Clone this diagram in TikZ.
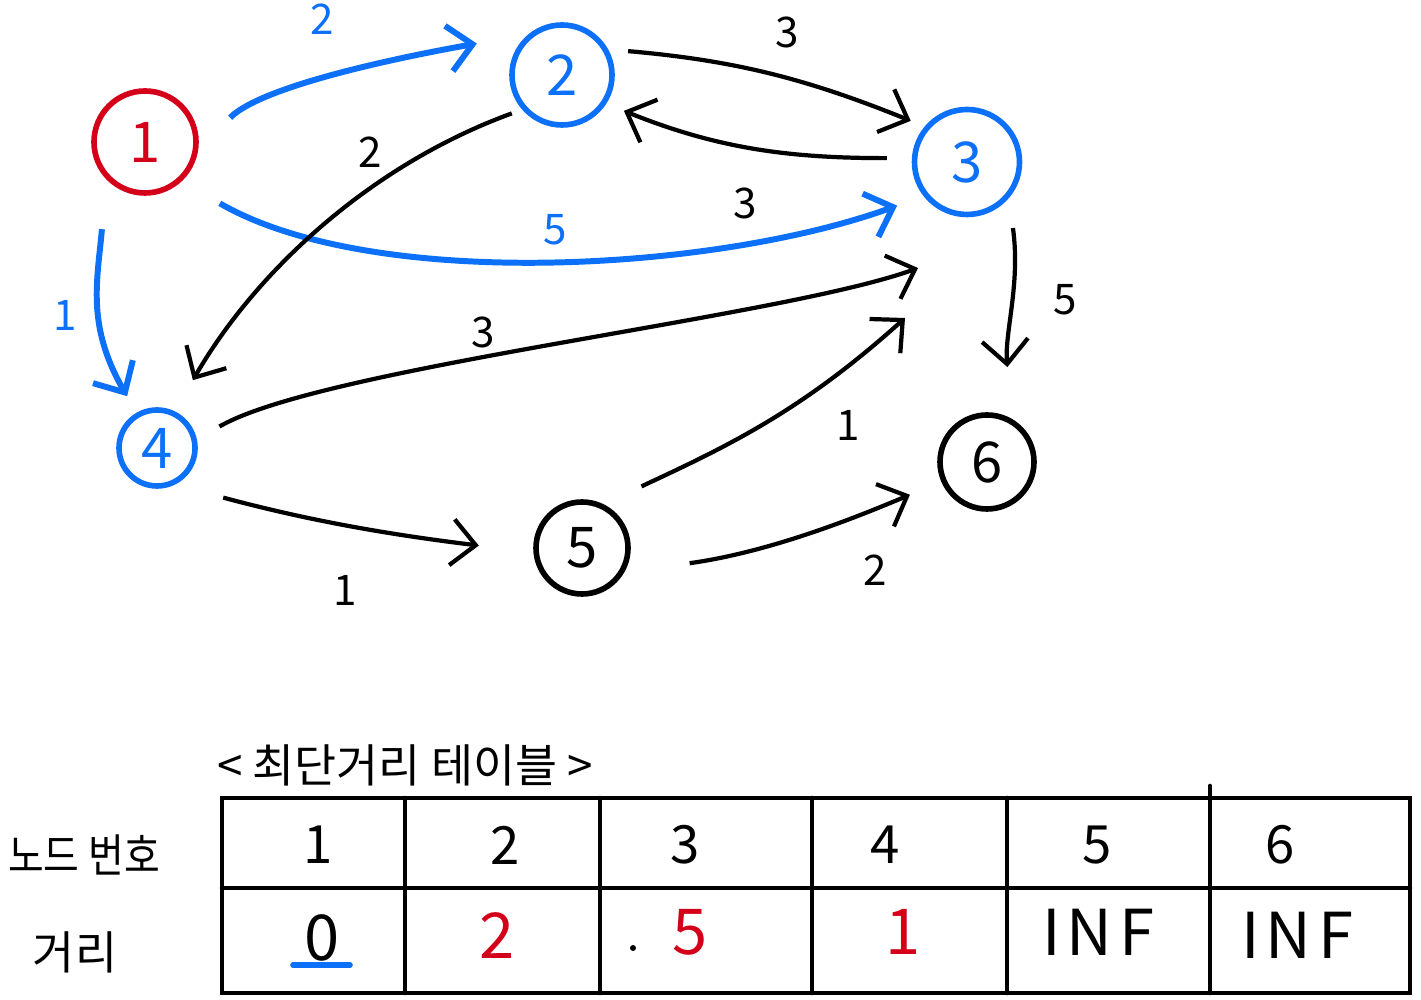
\documentclass[tikz,border=0pt]{standalone}
\usepackage{fontspec}
\setmainfont{Noto Sans CJK KR}
\usetikzlibrary{arrows.meta}
\definecolor{pathblue}{RGB}{12,112,248}
\definecolor{startred}{RGB}{212,0,26}
\newcommand{\sizept}[1]{\fontsize{#1}{#1}\selectfont}

\begin{document}
\begin{tikzpicture}[>={Straight Barb[length=2.4mm,width=4.6mm]},
 vtx/.style={circle,draw,line width=1.6pt,inner sep=0pt,font=\sizept{16}},
 edge/.style={->,line width=1.2pt},
 hot/.style={edge,pathblue,line width=1.7pt},
 lbl/.style={font=\sizept{12}},
 cell/.style={font=\sizept{15}},
 val/.style={font=\sizept{18}},
 inf/.style={font=\sizept{18}\addfontfeature{LetterSpace=10}},
 hangul/.style={font=\sizept{13}},
 grid/.style={line width=1.3pt,line cap=round}]
 \useasboundingbox (0,0) rectangle (14.21,-10);
 % graph
 \node[vtx,startred,minimum size=1.02cm] (n1) at (1.45,-1.42) {1};
 \node[vtx,pathblue,minimum size=1.0cm] (n2) at (5.62,-0.75) {2};
 \node[vtx,pathblue,minimum size=1.05cm] (n3) at (9.67,-1.62) {3};
 \node[vtx,pathblue,minimum size=0.76cm] (n4) at (1.57,-4.48) {4};
 \node[vtx,minimum size=0.92cm] (n5) at (5.82,-5.48) {5};
 \node[vtx,minimum size=0.94cm] (n6) at (9.87,-4.62) {6};
 \coordinate (t43) at ([shift={(-0.49,-1.06)}]n3.center);
 \coordinate (t53) at ([shift={(-0.62,-1.56)}]n3.center);
 % blue = edges out of the start node
 \draw[hot,shorten <=4.5mm,shorten >=5.2mm] (n1.-8) to[out=45,in=190,looseness=0.7] (n2.130);
 \draw[hot,shorten <=4.4mm,shorten >=2.8mm] (n1.-47) to[out=-30,in=200,looseness=0.76] (n3.218);
 \draw[hot,shorten <=5mm,shorten >=1.9mm] (n1.224) to[out=265,in=120,looseness=1.1] (n4.120);
 \draw[edge,shorten <=2mm,shorten >=1.5mm] (n2.29) to[out=-5,in=158] (n3.140);
 \draw[edge,shorten <=2.5mm,shorten >=1.9mm] (n3.176) to[out=180,in=-22] (n2.-33);
 \draw[edge,shorten <=1.1mm,shorten >=3.6mm] (n2.221) to[out=200,in=60,looseness=0.9] (n4.64);
 \draw[edge,shorten <=3mm,shorten >=5.2mm] (n3.-41) to[out=-82,in=95] (n6.60);
 \draw[edge,shorten <=2.6mm] (n4.12) to[out=30,in=200,looseness=0.5] (t43);
 \draw[edge,shorten <=5mm,shorten >=5.5mm] (n4.-64) to[out=-15,in=173] (n5.185);
 \draw[edge,shorten <=4.2mm] (n5.64) to[out=25,in=222] (t53);
 \draw[edge,shorten <=6.6mm,shorten >=3.4mm] (n5.-30) to[out=8,in=203] (n6.203);
 \node[lbl,pathblue] (w12) at (3.22,-0.19) {2};
 \node[lbl,pathblue] (w13) at (5.55,-2.30) {5};
 \node[lbl,pathblue] (w14) at (0.65,-3.15) {1};
 \node[lbl] (w23) at (7.87,-0.32) {3};
 \node[lbl] (w32) at (7.45,-2.03) {3};
 \node[lbl] (w24) at (3.70,-1.52) {2};
 \node[lbl] (w36) at (10.65,-3.00) {5};
 \node[lbl] (w43) at (4.83,-3.32) {3};
 \node[lbl] (w45) at (3.45,-5.90) {1};
 \node[lbl] (w53) at (8.48,-4.25) {1};
 \node[lbl] (w56) at (8.75,-5.70) {2};
 % distance table
 \node[hangul] (ttl) at (4.05,-7.65) {< 최단거리 테이블 >};
 \node[hangul,xscale=0.85,transform shape] (rowk) at (0.84,-8.55) {노드 번호};
 \node[hangul] (rowd) at (0.75,-9.52) {거리};
 \draw[grid] (2.22,-7.98) rectangle (14.10,-9.93);
 \draw[grid] (2.22,-8.88) -- (14.10,-8.88);
 \foreach \x in {4.05,6.00,8.12,10.07} \draw[grid] (\x,-7.98) -- (\x,-9.93);
 \draw[grid] (12.10,-7.86) -- (12.10,-9.93);
 \foreach \k/\x in {1/3.18,2/5.05,3/6.85,4/8.85,5/10.97,6/12.80} \node[cell] (h\k) at (\x,-8.45) {\k};
 \node[val] (d1) at (3.22,-9.38) {0};
 \draw[pathblue,line width=1.6pt,line cap=round] ([shift={(-0.29,-0.27)}]d1.center) -- ([shift={(0.28,-0.27)}]d1.center);
 \node[val,startred] (d2) at (4.97,-9.36) {2};
 \fill (6.33,-9.48) circle (0.03);
 \node[val,startred] (d3) at (6.90,-9.32) {5};
 \node[val,startred] (d4) at (9.03,-9.32) {1};
 \node[inf] (d5) at (10.98,-9.32) {INF};
 \node[inf] (d6) at (12.97,-9.35) {INF};
\end{tikzpicture}
\end{document}
